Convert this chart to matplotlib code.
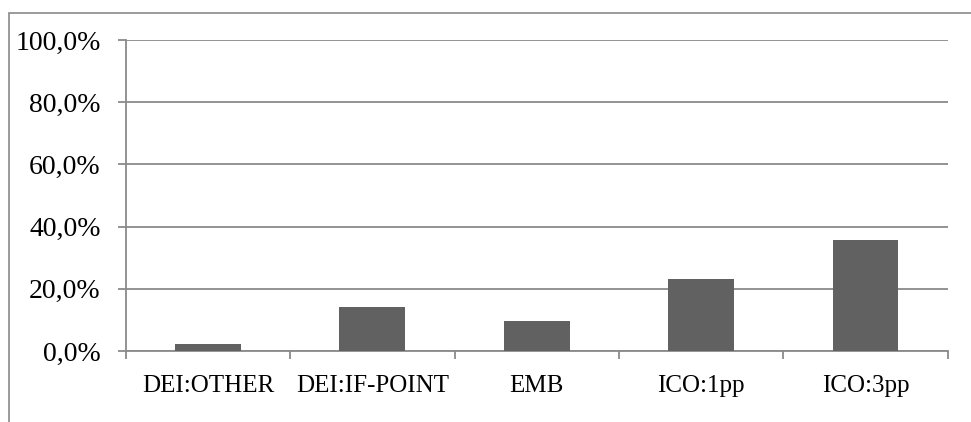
# bar chart of share per label type

import matplotlib.pyplot as plt
from matplotlib.patches import Rectangle
from matplotlib.ticker import FuncFormatter, FixedLocator

categories = ['DEI:OTHER', 'DEI:IF-POINT', 'EMB', 'ICO:1pp', 'ICO:3pp']
shares = [0.021, 0.142, 0.097, 0.230, 0.357]

plt.rcParams['font.family'] = ['Liberation Serif', 'DejaVu Serif']

grey = '#8a8a8a'
bar_color = '#616161'

fig = plt.figure(figsize=(9.71, 4.22), dpi=100)
ax = fig.add_axes([0.1295, 0.1682, 0.976 - 0.1295, 0.9052 - 0.1682])

# outer chart frame (only top and left edges fall inside the image)
fig.add_artist(Rectangle((9 / 971, -0.1), 1.2, 1 - 13 / 422 + 0.1,
                         transform=fig.transFigure, fill=False,
                         edgecolor=grey, linewidth=1.2))

x = range(len(categories))
ax.bar(x, shares, width=0.4, color=bar_color, zorder=3)

ax.set_xlim(-0.5, len(categories) - 0.5)
ax.set_ylim(0, 1.0)
ax.set_yticks([0, 0.2, 0.4, 0.6, 0.8, 1.0])
ax.yaxis.set_major_formatter(FuncFormatter(lambda v, p: f'{v * 100:.1f}%'.replace('.', ',')))
ax.yaxis.grid(True, color=grey, linewidth=1.3, zorder=0)

ax.set_xticks(list(x))
ax.set_xticklabels(categories)
ax.xaxis.set_minor_locator(FixedLocator([i - 0.5 for i in range(len(categories) + 1)]))
ax.tick_params(axis='x', which='major', length=0, pad=17.5, labelsize=18)
ax.tick_params(axis='x', which='minor', length=6, width=1.3, color=grey, direction='out')
ax.tick_params(axis='y', length=6, width=1.3, color=grey, direction='out', labelsize=20, pad=12)

for side in ['top', 'right']:
    ax.spines[side].set_visible(False)
for side in ['left', 'bottom']:
    ax.spines[side].set_color(grey)
    ax.spines[side].set_linewidth(1.3)

fig.savefig('out.png', dpi=100)
